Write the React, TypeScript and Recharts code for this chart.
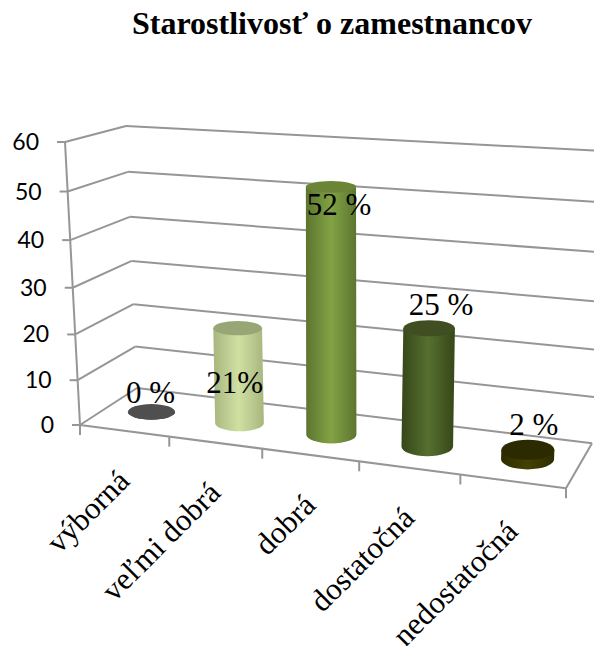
import { BarChart, Bar, XAxis, YAxis, CartesianGrid, LabelList } from "recharts";

const categories = ["výborná", "veľmi dobrá", "dobrá", "dostatočná", "nedostatočná"];
const values = [0, 21, 52, 25, 2];
const valueLabels = ["0 %", "21%", "52 %", "25 %", "2 %"];
const yTicks = [0, 10, 20, 30, 40, 50, 60];

// side edge, side centre, top cap for each cylinder
const cylinderColors = [
  ["#4f4f4f", "#4f4f4f", "#4f4f4f"],
  ["#a8b67f", "#d0e0a2", "#98a675"],
  ["#5c7530", "#82a244", "#6b8436"],
  ["#364619", "#56702f", "#3f4f22"],
  ["#2e2c00", "#444100", "#2c2a00"],
];

// where each value label sits relative to the top of its cylinder
const labelNudge = [
  [-1, -19],
  [-3, 55],
  [8, 18],
  [12, -23],
  [6, -25],
];

const rows = categories.map((name, i) => ({ name, value: values[i], label: valueLabels[i] }));

const WIDTH = 594;
const HEIGHT = 646;
const PLOT_LEFT = 80;
const PLOT_RIGHT = 566;
const PLOT_TOP = 142;
const PLOT_BOTTOM = 425;
const GRID = "#969696";

const uOf = (x: number) => (x - PLOT_LEFT) / (PLOT_RIGHT - PLOT_LEFT);
const tOf = (y: number) => (PLOT_BOTTOM - y) / (PLOT_BOTTOM - PLOT_TOP);

// Maps chart space onto the tilted box: u along the floor, d into the depth, t up the wall
function project(u: number, d: number, t: number) {
  const frontX = (429.4 * u + 80) / (1 - 0.1 * u);
  const frontY = 425 + 0.13 * (frontX - 80);
  const h = t + 0.06 * t * (t - 1);
  const height = (283 + 32 * u) * (1 - d) + (262 + 30 * u) * d;
  const lean = -15 + 4 * d + 25 * u;
  return {
    x: frontX + d * (57 - 31 * u) + lean * h,
    y: frontY + d * (-37 - 8 * u) - height * h,
  };
}

function seg(a: { x: number; y: number }, b: { x: number; y: number }) {
  return <line x1={a.x} y1={a.y} x2={b.x} y2={b.y} stroke={GRID} strokeWidth={2} />;
}

// One value level: left wall plus back wall, and the floor outline at zero
function renderGridLine(props: any) {
  const t = tOf(props.y1);
  const isFloor = Math.abs(t) < 0.001;
  return (
    <g key={props.key ?? props.index}>
      {seg(project(0, 0, t), project(0, 1, t))}
      {seg(project(0, 1, t), project(1, 1, t))}
      {isFloor && seg(project(0, 0, 0), project(1, 0, 0))}
      {isFloor && seg(project(1, 0, 0), project(1, 1, 0))}
      {isFloor && seg(project(0, 0, 0), project(0, 0, 1))}
    </g>
  );
}

function renderYTick(props: any) {
  const { y, payload } = props;
  const p = project(0, 0, tOf(y));
  return (
    <g>
      <line x1={p.x - 8} y1={p.y} x2={p.x} y2={p.y} stroke={GRID} strokeWidth={2} />
      <text
        x={p.x - 26}
        y={p.y}
        dy="0.35em"
        textAnchor="end"
        fontFamily="Lato"
        fontSize={23}
        fill="#000"
      >
        {payload.value}
      </text>
    </g>
  );
}

function renderXTick(props: any) {
  const { x, payload, index } = props;
  const bandU = 1 / categories.length;
  const u = uOf(x);
  const mid = project(u, 0, 0);
  const right = project(u + bandU / 2, 0, 0);
  const left = project(u - bandU / 2, 0, 0);
  const ax = mid.x + 7;
  const ay = mid.y + 52;
  return (
    <g>
      <line x1={right.x} y1={right.y} x2={right.x} y2={right.y + 10} stroke={GRID} strokeWidth={2} />
      {index === 0 && (
        <line x1={left.x} y1={left.y} x2={left.x} y2={left.y + 10} stroke={GRID} strokeWidth={2} />
      )}
      <text
        x={ax}
        y={ay}
        textAnchor="end"
        transform={`rotate(-45 ${ax} ${ay})`}
        fontFamily="Liberation Serif"
        fontSize={31}
        fill="#000"
      >
        {payload.value}
      </text>
    </g>
  );
}

// Cylinder standing halfway into the floor depth
function Cylinder(props: any) {
  const { x, y, width, index } = props;
  const u = uOf(x + width / 2);
  const t = tOf(y);
  const base = project(u, 0.5, 0);
  const top = project(u, 0.5, t);
  const scale = 0.97 + 0.15 * u;
  const rx = (width / 2) * scale;
  const ryBase = 7.5 + 3 * u;
  const ryTop = ryBase * (1 - 0.4 * t);
  const [edge, centre, cap] = cylinderColors[index];
  const id = `cylinder-${index}`;
  const side = `M${top.x - rx},${top.y} L${base.x - rx},${base.y} A${rx},${ryBase} 0 0 0 ${base.x + rx},${base.y} L${top.x + rx},${top.y} Z`;
  return (
    <g>
      <defs>
        <linearGradient id={id} x1="0" y1="0" x2="1" y2="0">
          <stop offset="0%" stopColor={edge} />
          <stop offset="50%" stopColor={centre} />
          <stop offset="100%" stopColor={edge} />
        </linearGradient>
      </defs>
      <path d={side} fill={`url(#${id})`} />
      <ellipse cx={top.x} cy={top.y} rx={rx} ry={ryTop} fill={cap} />
    </g>
  );
}

function renderValueLabel(props: any) {
  const { x, y, width, value, index } = props;
  const u = uOf(x + width / 2);
  const top = project(u, 0.5, tOf(y));
  const [dx, dy] = labelNudge[index];
  return (
    <text
      x={top.x + dx}
      y={top.y + dy}
      dy="0.33em"
      textAnchor="middle"
      fontFamily="Liberation Serif"
      fontSize={31}
      fill="#000"
    >
      {value}
    </text>
  );
}

export default function App() {
  return (
    <div style={{ position: "absolute", left: 0, top: 0, width: WIDTH, height: HEIGHT, background: "#fff", overflow: "hidden" }}>
      <div
        style={{
          position: "absolute",
          left: 35,
          width: WIDTH,
          top: 5,
          textAlign: "center",
          fontFamily: "Liberation Serif",
          fontWeight: "bold",
          fontSize: 32,
          color: "#000",
        }}
      >
        Starostlivosť o zamestnancov
      </div>
      <BarChart
        width={WIDTH}
        height={HEIGHT}
        data={rows}
        barSize={48}
        margin={{ top: PLOT_TOP, right: WIDTH - PLOT_RIGHT, bottom: 0, left: 0 }}
      >
        <CartesianGrid horizontal={renderGridLine} vertical={false} />
        <XAxis
          dataKey="name"
          height={HEIGHT - PLOT_BOTTOM}
          axisLine={false}
          tickLine={false}
          interval={0}
          tick={renderXTick}
        />
        <YAxis
          width={PLOT_LEFT}
          domain={[0, 60]}
          ticks={yTicks}
          axisLine={false}
          tickLine={false}
          tick={renderYTick}
        />
        <Bar dataKey="value" isAnimationActive={false} shape={Cylinder}>
          <LabelList dataKey="label" content={renderValueLabel} />
        </Bar>
      </BarChart>
    </div>
  );
}
